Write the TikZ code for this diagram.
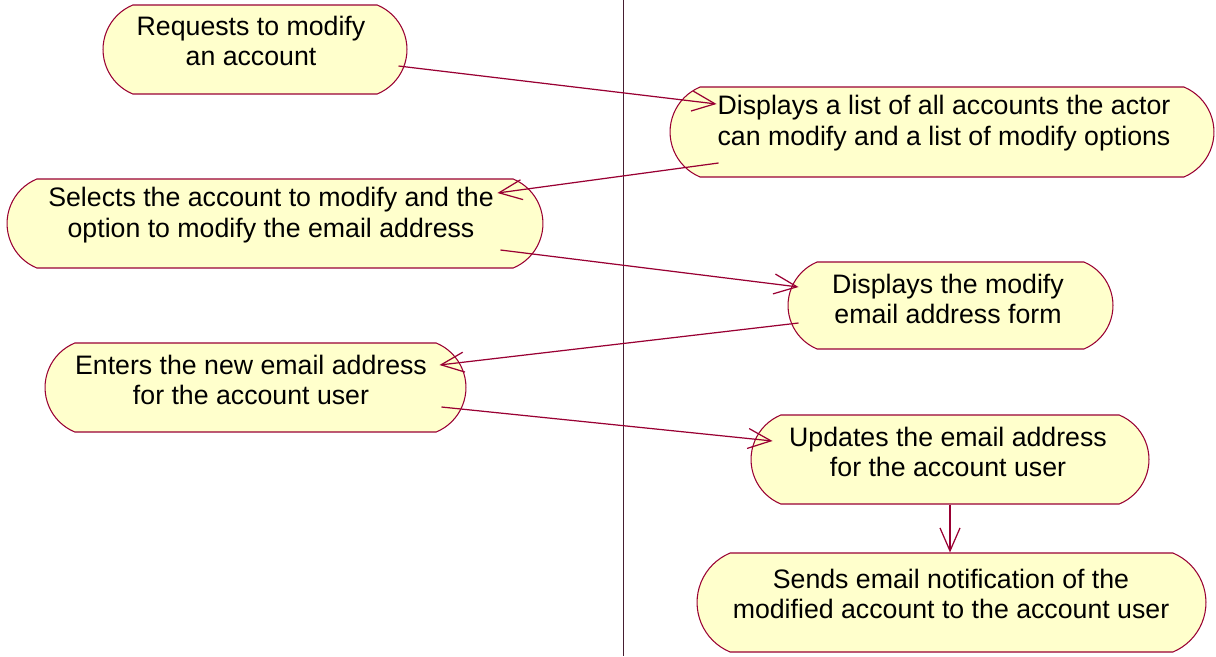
\documentclass[tikz,border=0pt]{standalone}
\usepackage{fontspec}
\setmainfont{Liberation Sans}
\usetikzlibrary{arrows.meta, shapes.misc}
\definecolor{roseLine}{RGB}{153,0,51}
\definecolor{roseFill}{RGB}{255,255,204}
\definecolor{laneDark}{RGB}{70,30,50}

\tikzset{
  activity/.style={rounded rectangle, rounded rectangle arc length=135, draw=roseLine, fill=roseFill, line width=0.6pt, inner sep=0pt},
  acttext/.style={align=center, inner sep=0pt, font=\fontsize{15.2pt}{17.4pt}\selectfont},
  flow/.style={roseLine, line width=0.7pt, -{Straight Barb[length=4.6mm, width=4mm]}}
}

\begin{document}
\begin{tikzpicture}[x=0.02cm, y=-0.02cm]
    \useasboundingbox (0,0) rectangle (1216,656);

    % swimlane divider
    \coordinate (laneTop) at (623,0);
    \coordinate (laneBot) at (623,656);
    \draw[laneDark, line width=0.5pt] (laneTop) -- (laneBot);

    % actor lane
    \node[activity, minimum width=6.08cm, minimum height=1.78cm] (req) at (255,49.5) {};
    \node[acttext] (reqtxt) at (251,41) {Requests to modify\\an account};

    \node[activity, minimum width=10.72cm, minimum height=1.78cm] (sel) at (275,223.5) {};
    \node[acttext] (seltxt) at (271,215) {Selects the account to modify and the\\option to modify the email address};

    \node[activity, minimum width=8.42cm, minimum height=1.78cm] (ent) at (255.5,387.5) {};
    \node[acttext] (enttxt) at (251,380) {Enters the new email address\\for the account user};

    % system lane
    \node[activity, minimum width=10.88cm, minimum height=1.80cm] (disp) at (942,132) {};
    \node[acttext] (disptxt) at (944,123) {Displays a list of all accounts the actor\\can modify and a list of modify options};

    \node[activity, minimum width=6.50cm, minimum height=1.74cm] (form) at (950.5,305.5) {};
    \node[acttext] (formtxt) at (948,299) {Displays the modify\\email address form};

    \node[activity, minimum width=7.96cm, minimum height=1.78cm] (upd) at (950,459.5) {};
    \node[acttext] (updtxt) at (948,452) {Updates the email address\\for the account user};

    \node[activity, minimum width=10.18cm, minimum height=1.98cm] (send) at (951.5,602.5) {};
    \node[acttext] (sendtxt) at (951,594) {Sends email notification of the\\modified account to the account user};

    % transitions
    \draw[flow] ([shift={(-9,16.5)}]req.east) -- ([shift={(47,-28)}]disp.west);
    \draw[flow] ([shift={(49,31)}]disp.west) -- ([shift={(-46,-30.5)}]sel.east);
    \draw[flow] ([shift={(-43,26.5)}]sel.east) -- ([shift={(11,-18.5)}]form.west);
    \draw[flow] ([shift={(11,17.5)}]form.west) -- ([shift={(-27,-22.5)}]ent.east);
    \draw[flow] ([shift={(-25,19.5)}]ent.east) -- ([shift={(22,-18.5)}]upd.west);
    \draw[flow] (upd.south) -- (upd.south |- send.north);
\end{tikzpicture}
\end{document}
